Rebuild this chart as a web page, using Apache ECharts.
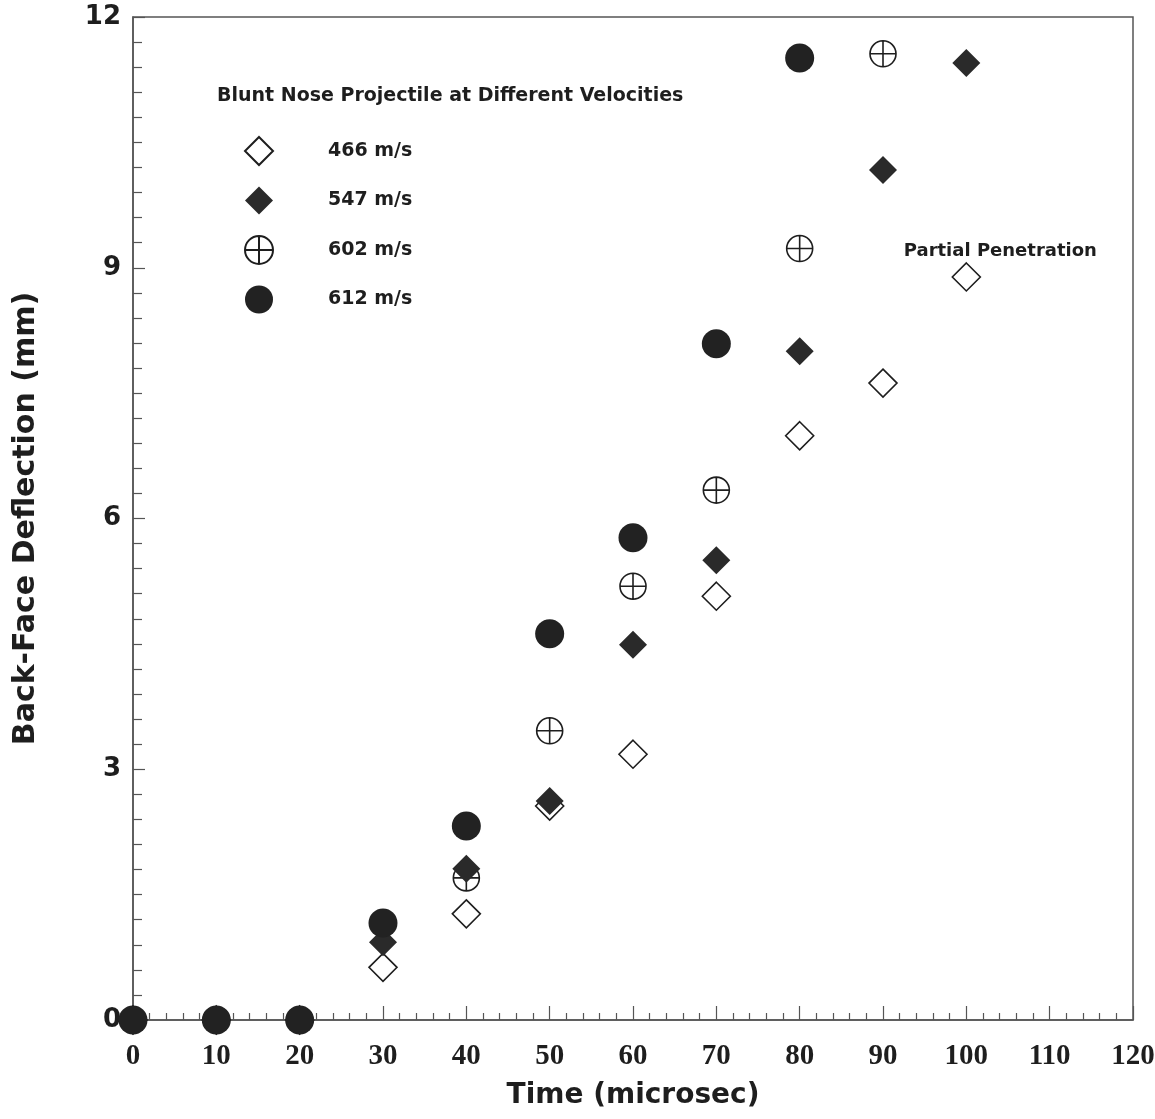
<!DOCTYPE html>
<html>
<head>
<meta charset="utf-8">
<script src="https://cdn.jsdelivr.net/npm/echarts@6/dist/echarts.min.js"></script>
<style>
  html, body { margin: 0; padding: 0; background: #fff; }
  #chart { width: 1155px; height: 1119px; }
</style>
</head>
<body>
<div id="chart"></div>
<script>
// Time (microsec) sample points for each velocity
const times466 = [0, 10, 20, 30, 40, 50, 60, 70, 80, 90, 100];
const defl466  = [0, 0, 0, 0.63, 1.27, 2.56, 3.18, 5.07, 6.99, 7.62, 8.89];

const times547 = [0, 10, 20, 30, 40, 50, 60, 70, 80, 90, 100];
const defl547  = [0, 0, 0, 0.93, 1.81, 2.62, 4.49, 5.50, 8.00, 10.17, 11.45];

const times602 = [0, 10, 20, 40, 50, 60, 70, 80, 90];
const defl602  = [0, 0, 0, 1.70, 3.46, 5.19, 6.34, 9.23, 11.56];

const times612 = [0, 10, 20, 30, 40, 50, 60, 70, 80];
const defl612  = [0, 0, 0, 1.16, 2.32, 4.62, 5.77, 8.09, 11.51];

const seriesNames = ['466 m/s', '547 m/s', '602 m/s', '612 m/s'];
const xTicks = [0, 10, 20, 30, 40, 50, 60, 70, 80, 90, 100, 110, 120];
const yTicks = [0, 3, 6, 9, 12];
const noteText = 'Partial Penetration';
const legendTitle = 'Blunt Nose Projectile at Different Velocities';

const INK = '#1e1e1e';
const AXIS = '#555';
const SANS = '"DejaVu Sans", "Liberation Sans", Arial, sans-serif';
const SERIF = '"Liberation Serif", "Times New Roman", serif';

const pair = (xs, ys) => xs.map((x, i) => [x, ys[i]]);
const crossCircle = 'path://M0,10A10,10 0 1,1 20,10A10,10 0 1,1 0,10ZM10,0L10,20M0,10L20,10';

// open diamond series; the last point carries the penetration note
const data466 = pair(times466, defl466).map((p, i, arr) => {
  if (i !== arr.length - 1) return p;
  return {
    value: p,
    label: {
      show: true, formatter: noteText, position: 'top', offset: [34, 3],
      fontFamily: SANS, fontWeight: 'bold', fontSize: 18, color: INK
    }
  };
});

const chart = echarts.init(document.getElementById('chart'), null, { renderer: 'canvas' });

chart.setOption({
  backgroundColor: '#fff',
  animation: false,
  title: {
    text: legendTitle,
    left: 212, top: 82,
    textStyle: { fontFamily: SANS, fontWeight: 'bold', fontSize: 19, color: INK }
  },
  legend: {
    data: seriesNames,
    orient: 'vertical',
    left: 239, top: 131,
    itemWidth: 28, itemHeight: 28,
    itemGap: 20.5,
    formatter: name => '{pad|}' + name,
    textStyle: {
      fontFamily: SANS, fontWeight: 'bold', fontSize: 19, color: INK,
      rich: { pad: { width: 50 } }
    }
  },
  grid: {
    left: 133, right: 22, top: 17, bottom: 99,
    outerBoundsMode: 'none', containLabel: false,
    show: true, borderColor: AXIS, borderWidth: 1.5, backgroundColor: 'transparent'
  },
  xAxis: {
    type: 'value', min: 0, max: 120, interval: 10,
    name: 'Time (microsec)', nameLocation: 'middle', nameGap: 62,
    nameTextStyle: { fontFamily: SANS, fontWeight: 'bold', fontSize: 28, color: INK },
    axisLine: { show: true, lineStyle: { color: AXIS, width: 1.5 } },
    axisTick: { show: true, inside: true, length: 14, lineStyle: { color: AXIS, width: 1.2 } },
    minorTick: { show: true, splitNumber: 5, length: 7, lineStyle: { color: AXIS, width: 1.2 } },
    splitLine: { show: false },
    axisLabel: {
      margin: 22, fontFamily: SERIF, fontWeight: 'bold', fontSize: 29, color: INK,
      formatter: v => (xTicks.includes(v) ? String(v) : '')
    }
  },
  yAxis: {
    type: 'value', min: 0, max: 12, interval: 3,
    name: 'Back-Face Deflection (mm)', nameLocation: 'middle', nameGap: 92, nameRotate: 90,
    nameTextStyle: { fontFamily: SANS, fontWeight: 'bold', fontSize: 30, color: INK },
    axisLine: { show: true, lineStyle: { color: AXIS, width: 1.5 } },
    axisTick: { show: true, inside: true, length: 12, lineStyle: { color: AXIS, width: 1.2 } },
    minorTick: { show: true, splitNumber: 10, length: 9, lineStyle: { color: AXIS, width: 1.2 } },
    splitLine: { show: false },
    axisLabel: {
      margin: 12, fontFamily: SANS, fontWeight: 'bold', fontSize: 26, color: INK,
      formatter: v => (yTicks.includes(v) ? String(v) : '')
    }
  },
  series: [
    {
      name: seriesNames[0], type: 'scatter', clip: false, z: 2,
      symbol: 'diamond', symbolSize: 28,
      itemStyle: { color: '#fff', borderColor: INK, borderWidth: 1.6, opacity: 1 },
      data: data466
    },
    {
      name: seriesNames[2], type: 'scatter', clip: false, z: 3,
      symbol: crossCircle, symbolSize: 26,
      itemStyle: { color: 'rgba(255,255,255,0)', borderColor: INK, borderWidth: 1.6, opacity: 1 },
      data: pair(times602, defl602)
    },
    {
      name: seriesNames[1], type: 'scatter', clip: false, z: 4,
      symbol: 'diamond', symbolSize: 28,
      itemStyle: { color: '#2a2a2a', opacity: 1 },
      data: pair(times547, defl547)
    },
    {
      name: seriesNames[3], type: 'scatter', clip: false, z: 5,
      symbol: 'circle', symbolSize: 29,
      itemStyle: { color: '#222', opacity: 1 },
      data: pair(times612, defl612)
    }
  ]
});
</script>
</body>
</html>
